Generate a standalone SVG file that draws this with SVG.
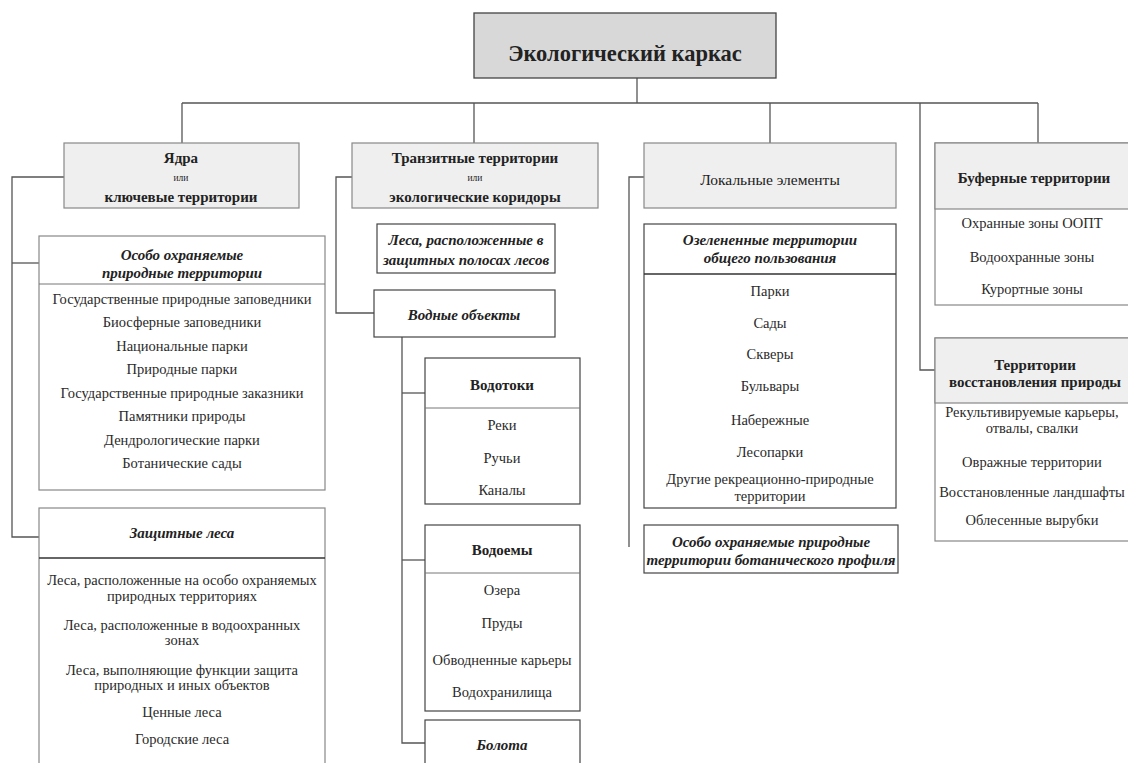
<svg xmlns="http://www.w3.org/2000/svg" width="1128" height="763" viewBox="0 0 1128 763">
  <style>
    .conn { stroke: #555; stroke-width: 1.3; fill: none; }
    .hdr { fill: #efefef; stroke: #888; stroke-width: 1.2; }
    .top { fill: #d8d8d8; stroke: #444; stroke-width: 1.3; }
    .box { fill: #ffffff; stroke: #444; stroke-width: 1.2; }
    .boxl { fill: #ffffff; stroke: #888; stroke-width: 1.2; }
    .div { stroke: #777; stroke-width: 1; }
    .divd { stroke: #333; stroke-width: 1.3; }
    text { font-family: "Liberation Serif", "Times New Roman", serif; fill: #222; text-anchor: middle; }
    .item { font-size: 14.5px; fill: #2a2a2a; }
    .bh { font-size: 15px; font-weight: bold; }
    .bi { font-size: 15px; font-weight: bold; font-style: italic; }
    .or { font-size: 9.5px; }
  </style>

  <rect width="1128" height="763" fill="#ffffff"/>

  <!-- connectors -->
  <g id="connectors">
    <path class="conn" d="M637 78 V103"/>
    <path class="conn" d="M182 103 H1038"/>
    <path class="conn" d="M182 103 V143"/>
    <path class="conn" d="M474 103 V143"/>
    <path class="conn" d="M770 103 V143"/>
    <path class="conn" d="M1038 103 V143"/>
    <path class="conn" d="M920 103 V370 H935"/>
    <path class="conn" d="M64 177 H12 V537 H39"/>
    <path class="conn" d="M12 263 H39"/>
    <path class="conn" d="M352 177 H336 V313 H374"/>
    <path class="conn" d="M402 337 V743 H425"/>
    <path class="conn" d="M402 393 H425"/>
    <path class="conn" d="M402 560 H425"/>
    <path class="conn" d="M644 177 H629 V547"/>
  </g>

  <!-- root -->
  <g id="root">
    <rect class="top" x="474" y="13" width="302" height="65"/>
    <text x="625" y="61" style="font-size:22.5px;font-weight:bold">Экологический каркас</text>
  </g>

  <!-- column 1 -->
  <g id="cores">
    <rect class="hdr" x="64" y="143" width="235" height="65"/>
    <text class="bh" x="181" y="163">Ядра</text>
    <text class="or" x="181" y="181">или</text>
    <text class="bh" x="181" y="202">ключевые территории</text>
  </g>

  <g id="protected-areas">
    <rect class="boxl" x="39" y="236" width="286" height="254"/>
    <line class="div" x1="39" y1="284" x2="325" y2="284"/>
    <text class="bi" x="182" y="260">Особо охраняемые</text>
    <text class="bi" x="182" y="278">природные территории</text>
    <text class="item" x="182" y="304">Государственные природные заповедники</text>
    <text class="item" x="182" y="327">Биосферные заповедники</text>
    <text class="item" x="182" y="351">Национальные парки</text>
    <text class="item" x="182" y="374">Природные парки</text>
    <text class="item" x="182" y="398">Государственные природные заказники</text>
    <text class="item" x="182" y="421">Памятники природы</text>
    <text class="item" x="182" y="445">Дендрологические парки</text>
    <text class="item" x="182" y="468">Ботанические сады</text>
  </g>

  <g id="protective-forests">
    <rect class="boxl" x="39" y="508" width="286" height="272"/>
    <line class="divd" x1="39" y1="558" x2="325" y2="558"/>
    <text class="bi" x="182" y="538">Защитные леса</text>
    <text class="item" x="182" y="585">Леса, расположенные на особо охраняемых</text>
    <text class="item" x="182" y="601">природных территориях</text>
    <text class="item" x="182" y="630">Леса, расположенные в водоохранных</text>
    <text class="item" x="182" y="645">зонах</text>
    <text class="item" x="182" y="675">Леса, выполняющие функции защита</text>
    <text class="item" x="182" y="690">природных и иных объектов</text>
    <text class="item" x="182" y="717">Ценные леса</text>
    <text class="item" x="182" y="744">Городские леса</text>
  </g>

  <!-- column 2 -->
  <g id="transit">
    <rect class="hdr" x="352" y="143" width="246" height="65"/>
    <text class="bh" x="475" y="163">Транзитные территории</text>
    <text class="or" x="475" y="181">или</text>
    <text class="bh" x="475" y="202">экологические коридоры</text>
  </g>

  <g id="shelter-forests">
    <rect class="box" x="377" y="224" width="178" height="49"/>
    <text class="bi" x="466" y="245">Леса, расположенные в</text>
    <text class="bi" x="466" y="265">защитных полосах лесов</text>
  </g>

  <g id="water-objects">
    <rect class="box" x="374" y="290" width="181" height="47"/>
    <text class="bi" x="464" y="320">Водные объекты</text>
  </g>

  <g id="watercourses">
    <rect class="box" x="425" y="358" width="155" height="146"/>
    <line class="div" x1="425" y1="408" x2="580" y2="408"/>
    <text class="bh" x="502" y="390">Водотоки</text>
    <text class="item" x="502" y="430">Реки</text>
    <text class="item" x="502" y="463">Ручьи</text>
    <text class="item" x="502" y="495">Каналы</text>
  </g>

  <g id="reservoirs">
    <rect class="box" x="425" y="525" width="155" height="186"/>
    <line class="div" x1="425" y1="573" x2="580" y2="573"/>
    <text class="bh" x="502" y="555">Водоемы</text>
    <text class="item" x="502" y="595">Озера</text>
    <text class="item" x="502" y="628">Пруды</text>
    <text class="item" x="502" y="665">Обводненные карьеры</text>
    <text class="item" x="502" y="697">Водохранилища</text>
  </g>

  <g id="swamps">
    <rect class="box" x="425" y="720" width="155" height="60"/>
    <text class="bi" x="502" y="750">Болота</text>
  </g>

  <!-- column 3 -->
  <g id="local">
    <rect class="hdr" x="644" y="143" width="252" height="65"/>
    <text x="770" y="185" style="font-size:15.5px">Локальные элементы</text>
  </g>

  <g id="green-areas">
    <rect class="box" x="644" y="224" width="252" height="284"/>
    <line class="divd" x1="644" y1="274" x2="896" y2="274"/>
    <text class="bi" x="770" y="245">Озелененные территории</text>
    <text class="bi" x="770" y="263">общего пользования</text>
    <text class="item" x="770" y="296">Парки</text>
    <text class="item" x="770" y="328">Сады</text>
    <text class="item" x="770" y="359">Скверы</text>
    <text class="item" x="770" y="391">Бульвары</text>
    <text class="item" x="770" y="425">Набережные</text>
    <text class="item" x="770" y="457">Лесопарки</text>
    <text class="item" x="770" y="484">Другие рекреационно-природные</text>
    <text class="item" x="770" y="501">территории</text>
  </g>

  <g id="botanical">
    <rect class="box" x="644" y="525" width="254" height="48"/>
    <text class="bi" x="771" y="547">Особо охраняемые природные</text>
    <text class="bi" x="771" y="565">территории ботанического профиля</text>
  </g>

  <!-- column 4 -->
  <g id="buffer">
    <rect class="boxl" x="935" y="143" width="200" height="162"/>
    <rect class="hdr" x="935" y="143" width="200" height="66"/>
    <text class="bh" x="1034" y="183">Буферные территории</text>
    <text class="item" x="1032" y="228">Охранные зоны ООПТ</text>
    <text class="item" x="1032" y="262">Водоохранные зоны</text>
    <text class="item" x="1032" y="294">Курортные зоны</text>
  </g>

  <g id="restoration">
    <rect class="boxl" x="935" y="338" width="200" height="203"/>
    <rect class="hdr" x="935" y="338" width="200" height="65"/>
    <text class="bh" x="1035" y="370">Территории</text>
    <text class="bh" x="1035" y="387">восстановления природы</text>
    <text class="item" x="1032" y="417">Рекультивируемые карьеры,</text>
    <text class="item" x="1032" y="433">отвалы, свалки</text>
    <text class="item" x="1032" y="467">Овражные территории</text>
    <text class="item" x="1032" y="497">Восстановленные ландшафты</text>
    <text class="item" x="1032" y="525">Облесенные вырубки</text>
  </g>
</svg>
